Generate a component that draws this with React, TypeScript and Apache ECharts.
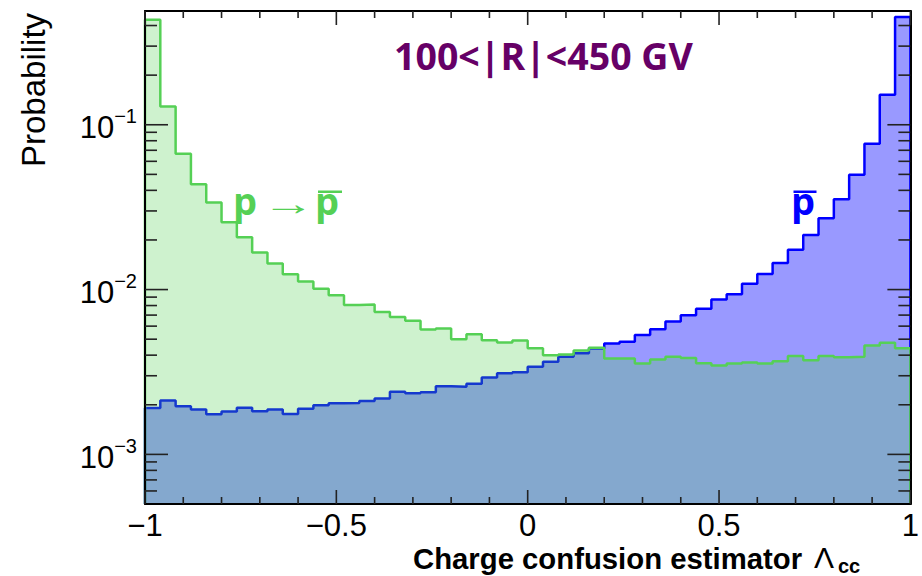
import React, { useEffect, useRef } from 'react';
import * as echarts from 'echarts';

// Bin edges of the charge confusion estimator (50 bins from -1 to 1)
const binEdges = [
  -1, -0.96, -0.92, -0.88, -0.84, -0.8, -0.76, -0.72, -0.68, -0.64,
  -0.6, -0.56, -0.52, -0.48, -0.44, -0.4, -0.36, -0.32, -0.28, -0.24,
  -0.2, -0.16, -0.12, -0.08, -0.04, 0, 0.04, 0.08, 0.12, 0.16,
  0.2, 0.24, 0.28, 0.32, 0.36, 0.4, 0.44, 0.48, 0.52, 0.56,
  0.6, 0.64, 0.68, 0.72, 0.76, 0.8, 0.84, 0.88, 0.92, 0.96, 1,
];

// p -> pbar (charge-confused protons), green
const protonConfused = [
  0.433, 0.129, 0.0667, 0.0435, 0.0337, 0.0256, 0.0208, 0.0168, 0.0144, 0.0124,
  0.0112, 0.0101, 0.00923, 0.00807, 0.00811, 0.00731, 0.00681, 0.00646, 0.00572, 0.0058,
  0.005, 0.00536, 0.00493, 0.00478, 0.00491, 0.00441, 0.004, 0.00404, 0.00427, 0.00443,
  0.00382, 0.00382, 0.00356, 0.00376, 0.00391, 0.00385, 0.00357, 0.00346, 0.00356, 0.00361,
  0.00356, 0.00368, 0.00396, 0.00373, 0.00396, 0.00389, 0.00391, 0.00458, 0.00475, 0.00441,
];

// pbar, blue
const antiproton = [
  0.00191, 0.00212, 0.00196, 0.00187, 0.00175, 0.00182, 0.00192, 0.00183, 0.00187, 0.00176,
  0.00189, 0.00199, 0.00204, 0.00205, 0.00211, 0.00218, 0.0024, 0.00235, 0.00238, 0.00259,
  0.00257, 0.00268, 0.00293, 0.00311, 0.00315, 0.0034, 0.00365, 0.00391, 0.00411, 0.00439,
  0.00471, 0.00483, 0.0053, 0.00574, 0.0064, 0.00699, 0.00764, 0.00869, 0.00937, 0.01084,
  0.01245, 0.01452, 0.01747, 0.02146, 0.02705, 0.0353, 0.0498, 0.0767, 0.152, 0.45,
];

const Y_MIN = 5e-4;
const Y_MAX = 0.49;
const X_MIN = -1;
const X_MAX = 1;

const xTickLabels = ['−1', '−0.5', '0', '0.5', '1'];
const xMajorTicks = [-1, -0.5, 0, 0.5, 1];
const xMinorTicks = [
  -0.9, -0.8, -0.7, -0.6, -0.4, -0.3, -0.2, -0.1,
  0.1, 0.2, 0.3, 0.4, 0.6, 0.7, 0.8, 0.9,
];
const yMajorTicks = [1e-3, 1e-2, 1e-1];
const yMinorTicks = [
  6e-4, 7e-4, 8e-4, 9e-4,
  2e-3, 3e-3, 4e-3, 5e-3, 6e-3, 7e-3, 8e-3, 9e-3,
  2e-2, 3e-2, 4e-2, 5e-2, 6e-2, 7e-2, 8e-2, 9e-2,
  2e-1, 3e-1, 4e-1,
];

function histPoints(values: number[]) {
  const pts: number[][] = [[binEdges[0], Y_MIN]];
  values.forEach((v, i) => pts.push([binEdges[i], v]));
  pts.push([binEdges[binEdges.length - 1], values[values.length - 1]]);
  pts.push([binEdges[binEdges.length - 1], Y_MIN]);
  return pts;
}

const SANS = '"Liberation Sans", Arial, Helvetica, sans-serif';
const BOLD = '"Open Sans", "Liberation Sans", sans-serif';
const GREEN = '#55D055';
const BLUE = '#0000FF';
const TICK = '#222222';
const TICK_W = 1.6;

function xLabel(v: number) {
  const idx = Math.round((v + 1) / 0.5);
  if (Math.abs((v + 1) / 0.5 - idx) > 1e-6) return '';
  return xTickLabels[idx] ?? '';
}

function yLabel(v: number) {
  const l = Math.log10(v);
  const e = Math.round(l);
  if (Math.abs(l - e) > 1e-6) return '';
  return `{b|10}{s|−${-e}}`;
}

const axisLineStyle = { color: '#000', width: 2 };

const baseX = {
  type: 'value',
  min: X_MIN,
  max: X_MAX,
  interval: 0.5,
  z: 10,
  splitLine: { show: false },
  axisLine: { show: true, onZero: false, lineStyle: axisLineStyle },
  axisTick: { show: false },
  minorTick: { show: false },
};

const baseY = {
  type: 'log',
  logBase: 10,
  min: Y_MIN,
  max: Y_MAX,
  z: 10,
  splitLine: { show: false },
  axisLine: { show: true, onZero: false, lineStyle: axisLineStyle },
  axisTick: { show: false },
};

const labelGraphics: any[] = [
  {
    type: 'text',
    left: 394,
    top: 36,
    style: { text: '100<|R|<450 GV', fill: '#660066', font: `bold 37.5px ${BOLD}` },
    z: 20,
  },
  {
    type: 'text',
    x: 233,
    y: 200,
    style: { text: 'p', fill: GREEN, font: `bold 38px ${BOLD}`, textAlign: 'left', textVerticalAlign: 'middle' },
    z: 20,
  },
  {
    type: 'text',
    x: 262,
    y: 203,
    scaleX: 1.55,
    style: { text: '→', fill: GREEN, font: `34px ${SANS}`, textAlign: 'left', textVerticalAlign: 'middle' },
    z: 20,
  },
  {
    type: 'text',
    x: 315,
    y: 200,
    style: { text: 'p', fill: GREEN, font: `bold 38px ${BOLD}`, textAlign: 'left', textVerticalAlign: 'middle' },
    z: 20,
  },
  { type: 'rect', shape: { x: 318, y: 190.5, width: 24, height: 2.5 }, style: { fill: GREEN }, z: 20 },
  {
    type: 'text',
    x: 791,
    y: 200,
    style: { text: 'p', fill: BLUE, font: `bold 38px ${BOLD}`, textAlign: 'left', textVerticalAlign: 'middle' },
    z: 20,
  },
  { type: 'rect', shape: { x: 793.5, y: 190.5, width: 23, height: 2.5 }, style: { fill: BLUE }, z: 20 },
  {
    type: 'text',
    x: 33,
    y: 167,
    rotation: Math.PI / 2,
    style: { text: 'Probability', fill: '#000', font: `33px ${SANS}`, textAlign: 'left', textVerticalAlign: 'middle' },
    z: 20,
  },
  {
    type: 'text',
    x: 413,
    y: 558,
    style: { text: 'Charge confusion estimator', fill: '#000', font: `bold 29.3px ${SANS}`, textAlign: 'left', textVerticalAlign: 'middle' },
    z: 20,
  },
  {
    type: 'text',
    x: 814,
    y: 557,
    style: { text: 'Λ', fill: '#000', font: `30px ${SANS}`, textAlign: 'left', textVerticalAlign: 'middle' },
    z: 20,
  },
  {
    type: 'text',
    x: 838,
    y: 565.5,
    style: { text: 'cc', fill: '#000', font: `bold 20px ${SANS}`, textAlign: 'left', textVerticalAlign: 'middle' },
    z: 20,
  },
];

export default function App() {
  const ref = useRef<HTMLDivElement>(null);
  useEffect(() => {
    const chart = echarts.init(ref.current!, null, { renderer: 'svg' });
    const option: any = {
      animation: false,
      backgroundColor: '#fff',
      grid: { left: 145, right: 11.5, top: 11, bottom: 72, containLabel: false },
      xAxis: [
        {
          ...baseX,
          position: 'bottom',
          axisLabel: {
            show: true,
            fontSize: 31,
            fontFamily: SANS,
            color: '#000',
            margin: 6,
            showMinLabel: true,
            showMaxLabel: true,
            formatter: xLabel,
          },
        },
        { ...baseX, position: 'top', axisLabel: { show: false } },
      ],
      yAxis: [
        {
          ...baseY,
          position: 'left',
          axisLabel: {
            show: true,
            margin: 8,
            color: '#000',
            formatter: yLabel,
            rich: {
              b: { fontSize: 31, fontFamily: SANS, color: '#000', padding: [6, 0, 0, 0] },
              s: { fontSize: 20, fontFamily: SANS, color: '#000', verticalAlign: 'top' },
            },
          },
        },
        { ...baseY, position: 'right', axisLabel: { show: false } },
      ],
      series: [
        {
          name: 'pbar',
          type: 'line',
          step: 'end',
          symbol: 'none',
          z: 2,
          data: histPoints(antiproton),
          lineStyle: { color: BLUE, width: 2.5 },
          areaStyle: { color: '#9999FF', opacity: 1, origin: Y_MIN },
        },
        {
          name: 'p to pbar',
          type: 'line',
          step: 'end',
          symbol: 'none',
          z: 3,
          data: histPoints(protonConfused),
          lineStyle: { color: GREEN, width: 2.5 },
          areaStyle: { color: 'rgba(77,208,77,0.275)', opacity: 1, origin: Y_MIN },
        },
      ],
      graphic: labelGraphics,
    };
    chart.setOption(option);

    // Frame ticks placed through the chart's own axis scales (convertToPixel)
    const finder = { xAxisIndex: 0, yAxisIndex: 0 };
    const toPx = (x: number, y: number) => chart.convertToPixel(finder, [x, y]) as number[];
    const tickEls: any[] = [];
    const addLine = (x1: number, y1: number, x2: number, y2: number) =>
      tickEls.push({
        type: 'line',
        silent: true,
        z: 30,
        shape: { x1, y1, x2, y2 },
        style: { stroke: TICK, lineWidth: TICK_W },
      });
    const yTicks = (vals: number[], len: number) =>
      vals.forEach((v) => {
        const l = toPx(X_MIN, v);
        const r = toPx(X_MAX, v);
        addLine(l[0], l[1], l[0] + len, l[1]);
        addLine(r[0], r[1], r[0] - len, r[1]);
      });
    const xTicks = (vals: number[], len: number) =>
      vals.forEach((v) => {
        const b = toPx(v, Y_MIN);
        const t = toPx(v, Y_MAX);
        addLine(b[0], b[1], b[0], b[1] - len);
        addLine(t[0], t[1], t[0], t[1] + len);
      });
    yTicks(yMajorTicks, 23);
    yTicks(yMinorTicks, 12);
    xTicks(xMajorTicks, 14);
    xTicks(xMinorTicks, 7);
    chart.setOption({ graphic: [...labelGraphics, ...tickEls] });

    return () => chart.dispose();
  }, []);
  return (
    <div
      ref={ref}
      style={{ position: 'fixed', left: 0, top: 0, width: 922, height: 576, background: '#fff' }}
    />
  );
}
